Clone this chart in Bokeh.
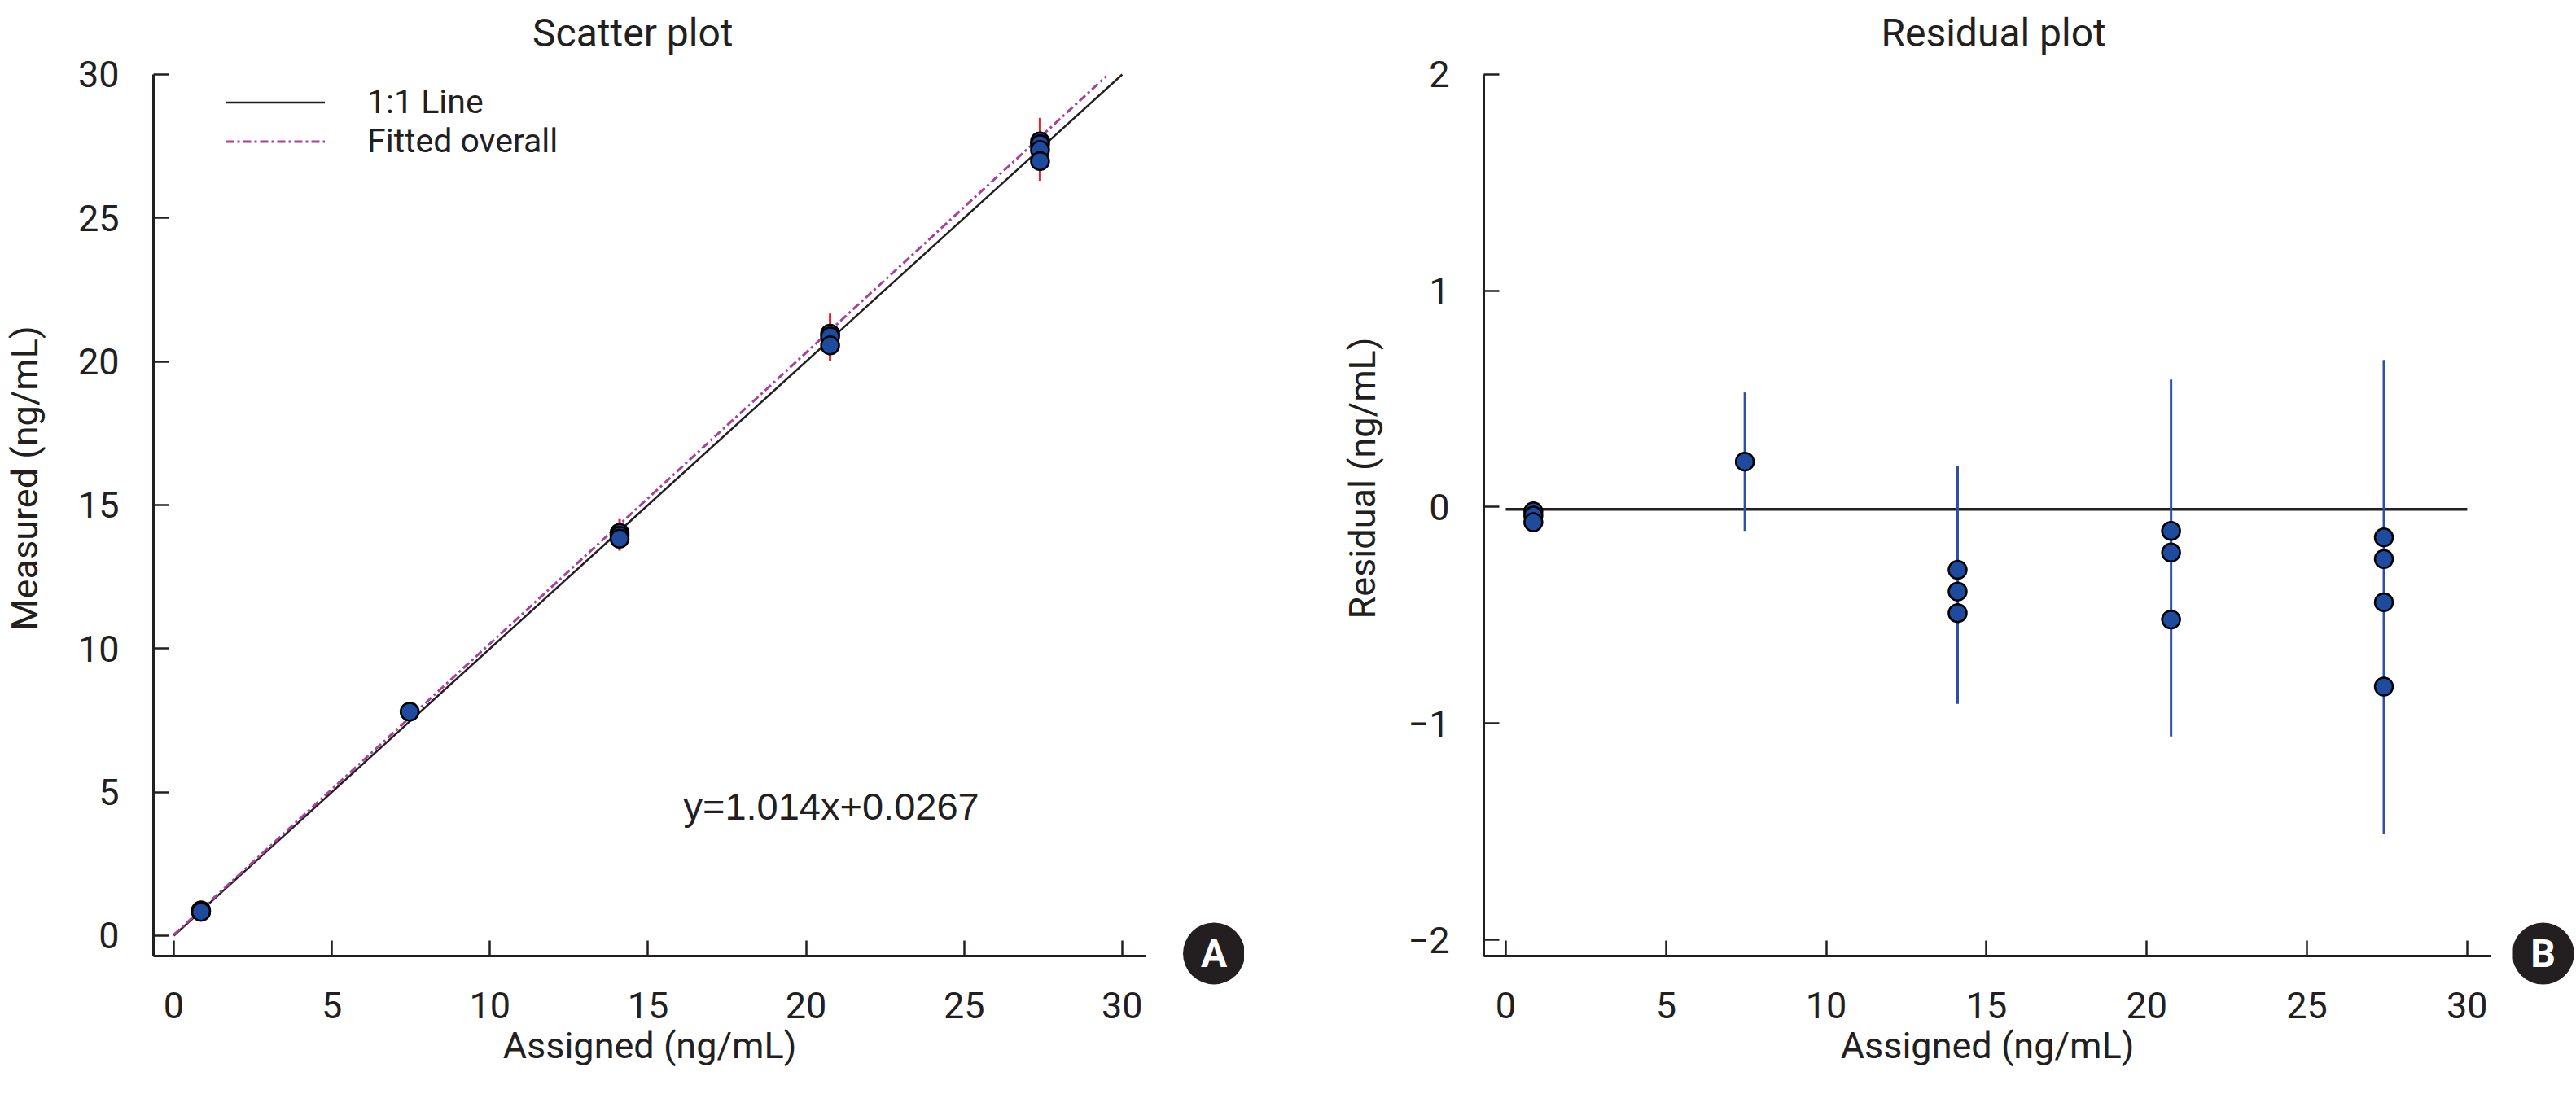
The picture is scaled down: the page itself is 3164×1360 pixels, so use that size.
from bokeh.plotting import figure
from bokeh.layouts import row
from bokeh.models import Range1d, FixedTicker, Label, Legend, LegendItem
from bokeh.embed import file_html
from bokeh.resources import INLINE
from bokeh.core.properties import value

# ---------------- data ----------------
assigned = [0.86, 0.86, 0.86, 7.46, 14.1, 14.1, 14.1, 20.76, 20.76, 20.76, 27.4, 27.4, 27.4, 27.4]
measured = [0.88, 0.86, 0.83, 7.80, 14.03, 13.93, 13.83, 20.97, 20.87, 20.56, 27.67, 27.57, 27.37, 26.98]
residual = [-0.02, -0.04, -0.07, 0.21, -0.29, -0.39, -0.49, -0.11, -0.21, -0.52, -0.14, -0.24, -0.44, -0.83]

group_x = [0.86, 7.46, 14.1, 20.76, 27.4]
meas_lo = [0.78, 7.48, 13.41, 20.02, 26.30]
meas_hi = [0.96, 8.12, 14.51, 21.67, 28.49]
resid_lo = [-0.10, -0.11, -0.91, -1.06, -1.51]
resid_hi = [0.00, 0.53, 0.19, 0.59, 0.68]

identity_x = [0, 30]
identity_y = [0, 30]
fit_x = [0, 29.5]
fit_y = [0.03, 29.94]
zero_x = [0, 30]
zero_y = [-0.01, -0.01]

x_ticks = [0, 5, 10, 15, 20, 25, 30]
y_ticks_scatter = [0, 5, 10, 15, 20, 25, 30]
y_ticks_resid = [-2, -1, 0, 1, 2]

equation = "y=1.014x+0.0267"
titles = ["Scatter plot", "Residual plot"]
panel_letters = ["A", "B"]

# ---------------- style ----------------
TXT = "#231f20"
BLUE = "#1e4b9e"
ERR_BLUE = "#2d4fa6"
RED = "#e8202a"
MAG = "#a8409c"
FONT = "Roboto"


def style_axes(p, xlabel, ylabel, xb, yb, yticks):
    for ax in (p.xaxis[0], p.yaxis[0]):
        ax.axis_line_color = TXT
        ax.axis_line_width = 3
        ax.major_tick_in = 19
        ax.major_tick_out = 0
        ax.major_tick_line_color = TXT
        ax.major_tick_line_width = 2.5
        ax.minor_tick_line_color = None
        ax.major_label_text_font = FONT
        ax.major_label_text_font_size = "45px"
        ax.major_label_text_color = TXT
        ax.axis_label_text_font = FONT
        ax.axis_label_text_font_size = "45px"
        ax.axis_label_text_font_style = "normal"
        ax.axis_label_text_color = TXT
    p.xaxis[0].ticker = FixedTicker(ticks=x_ticks)
    p.yaxis[0].ticker = FixedTicker(ticks=yticks)
    p.xaxis[0].bounds = xb
    p.yaxis[0].bounds = yb
    p.xaxis[0].axis_label = xlabel
    p.yaxis[0].axis_label = ylabel
    p.xaxis[0].major_label_standoff = 44
    p.xaxis[0].axis_label_standoff = 4
    p.yaxis[0].major_label_standoff = 42
    p.grid.visible = False
    p.outline_line_color = None


def make_fig(xr, yr, fw, fh, mbl, mbr):
    p = figure(x_range=Range1d(*xr), y_range=Range1d(*yr),
               frame_width=fw, frame_height=fh,
               min_border_left=mbl, min_border_right=mbr,
               min_border_top=0, min_border_bottom=5,
               output_backend="svg", toolbar_location=None, title=None)
    p.background_fill_color = "white"
    p.border_fill_color = "white"
    return p


def add_title(p, x, y, text):
    p.add_layout(Label(x=x, y=y, text=text, text_font=FONT, text_font_size="48px",
                       text_color=TXT, text_align="center", text_baseline="alphabetic"))


def badge_fig(xr, yr, fw, fh, x, y, letter):
    b = figure(x_range=Range1d(*xr), y_range=Range1d(*yr), frame_width=fw, frame_height=fh,
               min_border=0, x_axis_location=None, y_axis_location=None,
               output_backend="svg", toolbar_location=None, title=None)
    b.grid.visible = False
    b.outline_line_color = None
    b.background_fill_color = "white"
    b.border_fill_color = "white"
    b.scatter([x], [y], size=76, fill_color=TXT, line_color=None)
    b.text([x], [y], text=[letter], text_color="white", text_font=value(FONT),
           text_font_style="bold", text_font_size="48px",
           text_align="center", text_baseline="middle")
    return b


# ---------------- scatter plot ----------------
p1 = make_fig((-0.644, 30.75), (-0.71, 32.579), 1219, 1174, 183, 45)
style_axes(p1, "Assigned (ng/mL)", "Measured (ng/mL)", (-0.644, 30.75), (-0.71, 30.0), y_ticks_scatter)
p1.yaxis[0].axis_label_standoff = 36

r_id = p1.line(identity_x, identity_y, line_color=TXT, line_width=2.5)
r_fit = p1.line(fit_x, fit_y, line_color=MAG, line_width=3, line_dash="10 4 3 4")
p1.segment(group_x, meas_lo, group_x, meas_hi, line_color=RED, line_width=3)
p1.scatter(assigned, measured, size=22, fill_color=BLUE, line_color="black", line_width=2.5)

legend = Legend(items=[LegendItem(label="1:1 Line", renderers=[r_id]),
                       LegendItem(label="Fitted overall", renderers=[r_fit])],
                location=(89, 977), padding=0, margin=0, spacing=0,
                glyph_width=122, glyph_height=45, label_height=45, label_standoff=52,
                label_text_font=FONT, label_text_font_size="41px", label_text_color=TXT,
                border_line_color=None, background_fill_alpha=0)
p1.add_layout(legend)

p1.add_layout(Label(x=16.12, y=4.51, text=equation, text_font="Liberation Sans",
                    text_font_size="47px", text_color=TXT, text_baseline="alphabetic"))
add_title(p1, 14.52, 31.45, titles[0])

bA = badge_fig((31.908, 33.865), (-2.00, 32.579), 76, 1220, 32.9, -0.61, panel_letters[0])

# ---------------- residual plot ----------------
p2 = make_fig((-0.685, 30.74), (-2.075, 2.342), 1237, 1174, 294, 27)
style_axes(p2, "Assigned (ng/mL)", "Residual (ng/mL)", (-0.685, 30.74), (-2.075, 2.0), y_ticks_resid)
p2.yaxis[0].axis_label_standoff = 26

p2.line(zero_x, zero_y, line_color=TXT, line_width=3.5)
p2.segment(group_x, resid_lo, group_x, resid_hi, line_color=ERR_BLUE, line_width=3)
p2.scatter(assigned, residual, size=22, fill_color=BLUE, line_color="black", line_width=2.5)
add_title(p2, 15.22, 2.192, titles[1])

bB = badge_fig((31.37, 33.272), (-2.244, 2.342), 75, 1220, 32.31, -2.060, panel_letters[1])

layout = row(p1, bA, p2, bB)
open("out.html", "w").write(file_html(layout, INLINE))
